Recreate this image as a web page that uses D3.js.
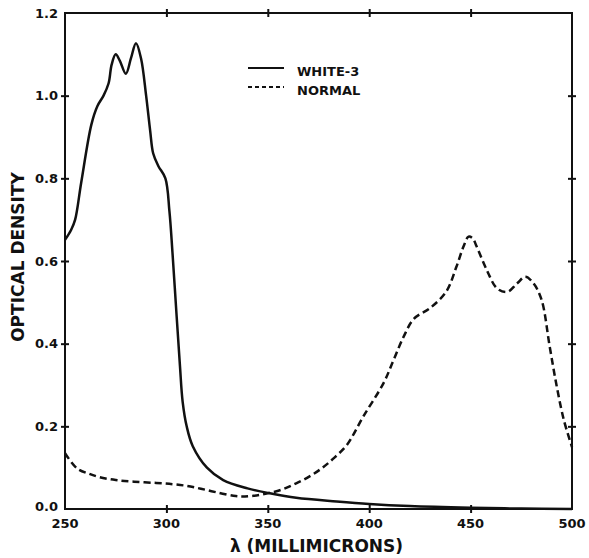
<!DOCTYPE html>
<html>
<head>
<meta charset="utf-8">
<script src="https://cdn.jsdelivr.net/npm/d3@7"></script>
<style>
  body { margin: 0; background: #fff; }
  text { font-family: 'DejaVu Sans', sans-serif; font-weight: bold; fill: #111; }
</style>
</head>
<body>
<div id="chart"></div>
<script>
// wavelength (nm) and optical density
const whiteNm = [250, 253, 255, 258, 263, 266, 269, 271.5, 273, 275, 277, 280, 282.5, 285, 287.5, 290, 292, 293.5, 296, 299.5, 301.5, 303, 305, 306.7, 308, 310, 313, 320, 328, 340, 351, 364, 384, 400, 420, 450, 475, 500]
const whiteOd = [0.651, 0.675, 0.70, 0.79, 0.93, 0.975, 1.0, 1.03, 1.075, 1.10, 1.085, 1.053, 1.09, 1.127, 1.09, 1.0, 0.915, 0.86, 0.83, 0.80, 0.72, 0.62, 0.47, 0.345, 0.26, 0.20, 0.152, 0.10, 0.07, 0.05, 0.038, 0.027, 0.018, 0.012, 0.007, 0.003, 0.001, 0.0]

const normalNm = [250, 256, 262, 267, 275, 284, 295, 303, 310, 317, 325, 333, 337, 343, 350, 357, 364, 371, 377, 383, 389, 397, 407, 412, 417, 422, 430, 438, 443, 446.5, 449, 451, 453, 458, 463, 468, 473, 477, 481, 485, 489, 492.5, 496, 500]
const normalOd = [0.135, 0.098, 0.085, 0.077, 0.07, 0.066, 0.063, 0.06, 0.056, 0.049, 0.04, 0.032, 0.03, 0.032, 0.038, 0.047, 0.062, 0.08, 0.1, 0.125, 0.155, 0.223, 0.304, 0.36, 0.417, 0.46, 0.486, 0.526, 0.586, 0.635, 0.659, 0.655, 0.635, 0.578, 0.534, 0.525, 0.546, 0.562, 0.546, 0.506, 0.393, 0.296, 0.215, 0.15]

const xTicks = [250, 300, 350, 400, 450, 500]
const yTicks = [0, 0.2, 0.4, 0.6, 0.8, 1.0, 1.2]
const legendLabels = ['WHITE-3', 'NORMAL']

const margin = { top: 13, left: 65, right: 17, bottom: 49 }
const width = 589 - margin.left - margin.right
const height = 558 - margin.top - margin.bottom

const svg = d3
  .select('#chart')
  .append('svg')
  .attr('width', 589)
  .attr('height', 558)
  .append('g')
  .attr('transform', 'translate(' + margin.left + ',' + margin.top + ')')

const x = d3.scaleLinear().domain([250, 500]).range([0, width])
const y = d3.scaleLinear().domain([0, 1.2]).range([height, 0])

const innerX = xTicks.slice(1, -1)
const innerY = yTicks.slice(1, -1)

// ticks cross the frame, so draw one set outward and one inward
const styleAxis = g => {
  g.selectAll('.domain').remove()
  g.selectAll('.tick line').attr('stroke', '#111').attr('stroke-width', 2)
}

svg.append('g')
  .attr('transform', `translate(0,${height})`)
  .call(d3.axisBottom(x).tickValues(innerX).tickSize(4).tickFormat(''))
  .call(styleAxis)
svg.append('g')
  .attr('transform', `translate(0,${height})`)
  .call(d3.axisTop(x).tickValues(innerX).tickSize(4).tickFormat(''))
  .call(styleAxis)
svg.append('g')
  .call(d3.axisTop(x).tickValues(innerX).tickSize(4).tickFormat(''))
  .call(styleAxis)
svg.append('g')
  .call(d3.axisBottom(x).tickValues(innerX).tickSize(4).tickFormat(''))
  .call(styleAxis)
svg.append('g')
  .call(d3.axisLeft(y).tickValues(innerY).tickSize(4).tickFormat(''))
  .call(styleAxis)
svg.append('g')
  .call(d3.axisRight(y).tickValues(innerY).tickSize(4).tickFormat(''))
  .call(styleAxis)
svg.append('g')
  .attr('transform', `translate(${width},0)`)
  .call(d3.axisLeft(y).tickValues(innerY).tickSize(4).tickFormat(''))
  .call(styleAxis)
svg.append('g')
  .attr('transform', `translate(${width},0)`)
  .call(d3.axisRight(y).tickValues(innerY).tickSize(4).tickFormat(''))
  .call(styleAxis)

// frame
svg.append('rect')
  .attr('width', width)
  .attr('height', height)
  .attr('fill', 'none')
  .attr('stroke', '#111')
  .attr('stroke-width', 2)

// tick labels
svg.append('g')
  .selectAll('text')
  .data(yTicks)
  .join('text')
  .attr('x', -7)
  .attr('y', d => y(d))
  .attr('dy', d => (d === 0 ? '0.15em' : '0.36em'))
  .attr('text-anchor', 'end')
  .style('font-size', '13px')
  .text(d => d.toFixed(1))

svg.append('g')
  .selectAll('text')
  .data(xTicks)
  .join('text')
  .attr('x', d => x(d))
  .attr('y', height + 19)
  .attr('text-anchor', 'middle')
  .style('font-size', '13px')
  .text(d => d)

// axis titles
svg.append('text')
  .attr('x', x(375) - 2)
  .attr('y', height + 43)
  .attr('text-anchor', 'middle')
  .style('font-size', '17px')
  .text('λ (MILLIMICRONS)')

svg.append('text')
  .attr('transform', `translate(${-41},${y(0.6) - 4}) rotate(-90)`)
  .attr('text-anchor', 'middle')
  .style('font-size', '17px')
  .text('OPTICAL DENSITY')

// curves
const line = d3.line()
  .x(d => x(d[0]))
  .y(d => y(d[1]))
  .curve(d3.curveCatmullRom.alpha(0.5))

svg.append('path')
  .datum(d3.zip(whiteNm, whiteOd))
  .attr('d', line)
  .attr('fill', 'none')
  .attr('stroke', '#111')
  .attr('stroke-width', 2.5)

svg.append('path')
  .datum(d3.zip(normalNm, normalOd))
  .attr('d', line)
  .attr('fill', 'none')
  .attr('stroke', '#111')
  .attr('stroke-width', 2.5)
  .attr('stroke-dasharray', '7,4')

// legend
const legend = svg.append('g')
  .selectAll('g')
  .data(legendLabels)
  .join('g')
  .attr('transform', (d, i) => `translate(${248 - margin.left},${68 - margin.top + i * 19})`)

legend.append('line')
  .attr('x1', 0)
  .attr('x2', 36)
  .attr('stroke', '#111')
  .attr('stroke-width', 2)
  .attr('stroke-dasharray', (d, i) => (i === 1 ? '4,3' : null))

legend.append('text')
  .attr('x', 49)
  .attr('y', 8)
  .style('font-size', '13px')
  .text(d => d)
</script>
</body>
</html>
